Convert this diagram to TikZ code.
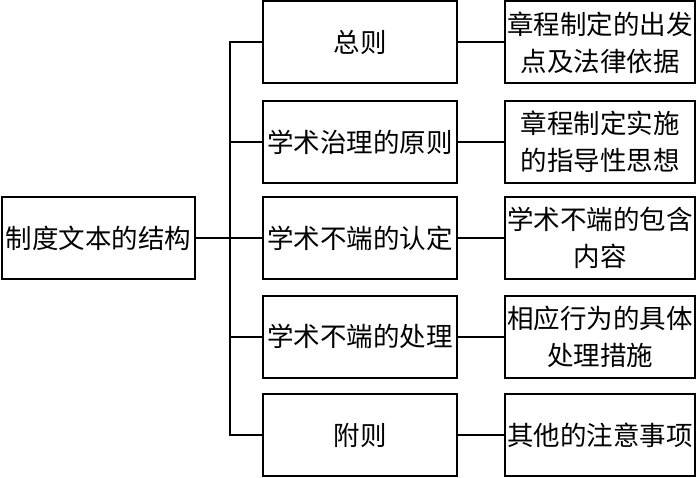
\documentclass[tikz,border=0pt]{standalone}
\usepackage{fontspec}
\setmainfont{Noto Sans CJK SC}

\tikzset{
	box/.style={draw, line width=2pt, minimum height=82pt, inner sep=0pt, align=center, font=\fontsize{26.5}{37}\selectfont},
}

\begin{document}
\begin{tikzpicture}[x=1pt, y=-1pt, line width=2pt]
\useasboundingbox (0,0) rectangle (700,478);

% NODES
\node[box, minimum width=193pt](root) at(98.5, 238) {制度文本的结构};

\coordinate(trunk) at(230, 238);

\foreach \i/\y/\part/\note in{
	1/42.5/{总则}/{章程制定的出发\\点及法律依据},
	2/142/{学术治理的原则}/{章程制定实施\\的指导性思想},
	3/238/{学术不端的认定}/{学术不端的包含\\内容},
	4/336.5/{学术不端的处理}/{相应行为的具体\\处理措施},
	5/435/{附则}/{其他的注意事项}%
}{
	\node[box, minimum width=194pt](mid\i) at(360, \y) {\part};
	\node[box, minimum width=190pt](note\i) at(600, \y) {\note};
}

% ARCS
\draw (root) -- (trunk);

\foreach \i in{1,...,5}{
	\draw (trunk) |- (mid\i);
	\draw (mid\i) -- (note\i);
}

\end{tikzpicture}
\end{document}
